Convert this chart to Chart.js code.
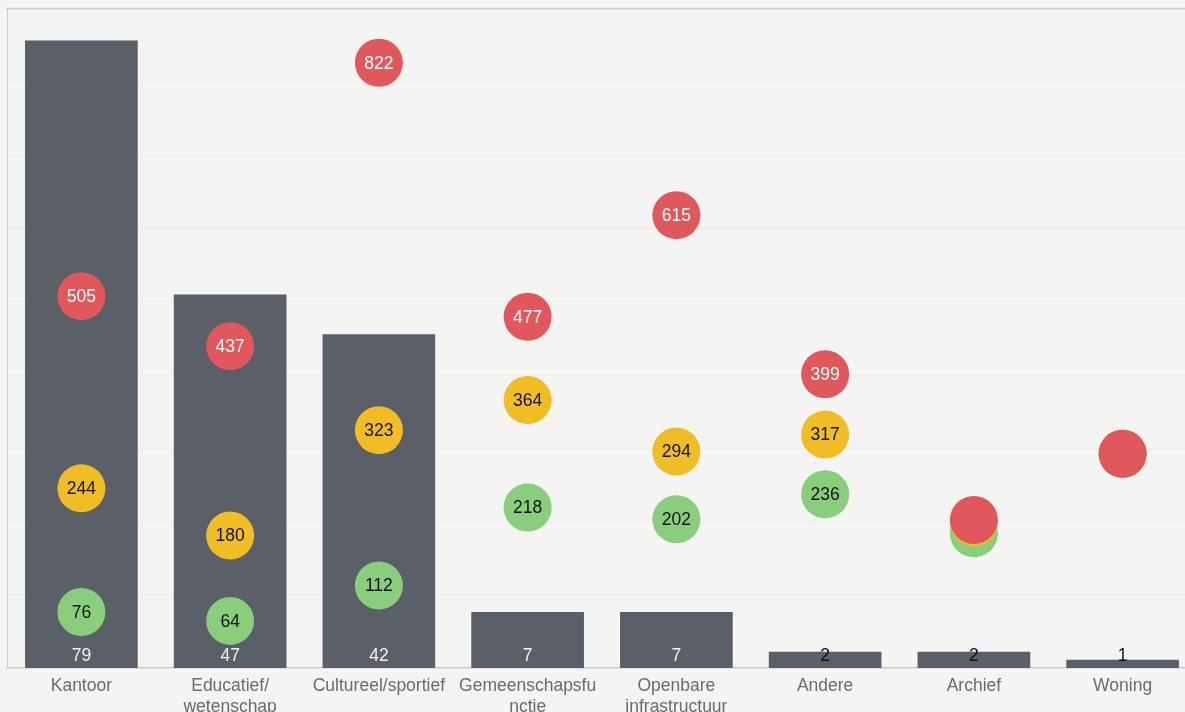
<!DOCTYPE html>
<html>
<head>
<meta charset="utf-8">
<script src="https://cdn.jsdelivr.net/npm/chart.js@4.4.1/dist/chart.umd.min.js"></script>
<style>
    html, body { margin: 0; padding: 0; background: #f4f4f2; overflow: hidden; }
    #wrap { position: absolute; left: 0; top: 0; width: 1200px; height: 740px; }
</style>
</head>
<body>
<div id="wrap"><canvas id="chart"></canvas></div>
<script>
var categories = [
    'Kantoor',
    ['Educatief/', 'wetenschap'],
    'Cultureel/sportief',
    ['Gemeenschapsfu', 'nctie'],
    ['Openbare', 'infrastructuur'],
    'Andere',
    'Archief',
    'Woning'
];

// number of buildings (bars)
var counts = [79, 47, 42, 7, 7, 2, 2, 1];

// bubble series
var redValues = [505, 437, 822, 477, 615, 399, 201, 291];
var yellowValues = [244, 180, 323, 364, 294, 317, 198, 291];
var greenValues = [76, 64, 112, 218, 202, 236, 183, 291];

// labels are not shown on the overlapping bubbles
var showBubbleLabel = [true, true, true, true, true, true, false, false];

var barColor = '#5b5f68';
var redColor = '#e0585b';
var yellowColor = '#f0bd25';
var greenColor = '#88ce7c';
var font = '"Liberation Sans", Arial, sans-serif';

var labelPlugin = {
    id: 'valueLabels',
    afterDatasetsDraw: function (chart) {
        var ctx = chart.ctx;
        var area = chart.chartArea;
        ctx.save();
        ctx.font = '17.5px ' + font;
        ctx.textAlign = 'center';

        // bar values at the foot of the bars
        var barMeta = chart.getDatasetMeta(0);
        ctx.textBaseline = 'alphabetic';
        barMeta.data.forEach(function (bar, i) {
            var h = area.bottom - bar.y;
            ctx.fillStyle = h > 20 ? '#f2f2f2' : '#111111';
            ctx.fillText(counts[i], bar.x, area.bottom - 7);
        });

        // bubble values
        ctx.textBaseline = 'middle';
        for (var d = 1; d < chart.data.datasets.length; d++) {
            var ds = chart.data.datasets[d];
            var meta = chart.getDatasetMeta(d);
            meta.data.forEach(function (pt, i) {
                if (!showBubbleLabel[i]) return;
                ctx.fillStyle = ds.textColor;
                ctx.fillText(ds.data[i], pt.x, pt.y + 1);
            });
        }
        ctx.restore();
    },
    afterDraw: function (chart) {
        var ctx = chart.ctx;
        var area = chart.chartArea;
        ctx.save();
        ctx.strokeStyle = '#c9c9c9';
        ctx.lineWidth = 1.5;
        ctx.beginPath();
        ctx.moveTo(area.left - 1, area.top - 0.5);
        ctx.lineTo(chart.width, area.top - 0.5);
        ctx.stroke();
        ctx.restore();
    }
};

function bubbleSet(label, values, color, textColor, order) {
    return {
        type: 'line',
        label: label,
        data: values,
        yAxisID: 'y2',
        showLine: false,
        pointRadius: 24,
        pointHoverRadius: 24,
        pointBorderWidth: 0,
        pointBackgroundColor: color,
        backgroundColor: color,
        borderColor: color,
        textColor: textColor,
        order: order,
        clip: false
    };
}

var config = {
    type: 'bar',
    data: {
        labels: categories,
        datasets: [{
            label: 'Aantal',
            data: counts,
            backgroundColor: barColor,
            barThickness: 112,
            yAxisID: 'y',
            order: 4
        },
            bubbleSet('Rood', redValues, redColor, '#ffffff', 1),
            bubbleSet('Geel', yellowValues, yellowColor, '#111111', 2),
            bubbleSet('Groen', greenValues, greenColor, '#111111', 3)
        ]
    },
    options: {
        responsive: true,
        maintainAspectRatio: false,
        animation: false,
        layout: { autoPadding: false, padding: { left: 7, top: 9, right: 3, bottom: 0 } },
        plugins: {
            legend: { display: false },
            tooltip: { enabled: false }
        },
        scales: {
            x: {
                grid: { display: false, drawTicks: false },
                border: { display: true, color: '#c9c9c9', width: 1.5 },
                ticks: {
                    color: '#6b6b6b',
                    font: { family: font, size: 17.5 },
                    padding: 8,
                    maxRotation: 0,
                    autoSkip: false
                },
                afterFit: function (scale) { scale.height = 72; }
            },
            y: {
                display: false,
                min: 0,
                max: 83
            },
            y2: {
                position: 'left',
                min: 0,
                max: 895,
                ticks: { display: false, stepSize: 100 },
                grid: { color: 'rgba(0,0,0,0.028)', drawTicks: false, lineWidth: 1.5 },
                border: { display: true, color: '#cfcfcf', width: 1 },
                afterFit: function (scale) { scale.width = 0; }
            }
        }
    },
    plugins: [labelPlugin]
};

new Chart(document.getElementById('chart'), config);
</script>
</body>
</html>
